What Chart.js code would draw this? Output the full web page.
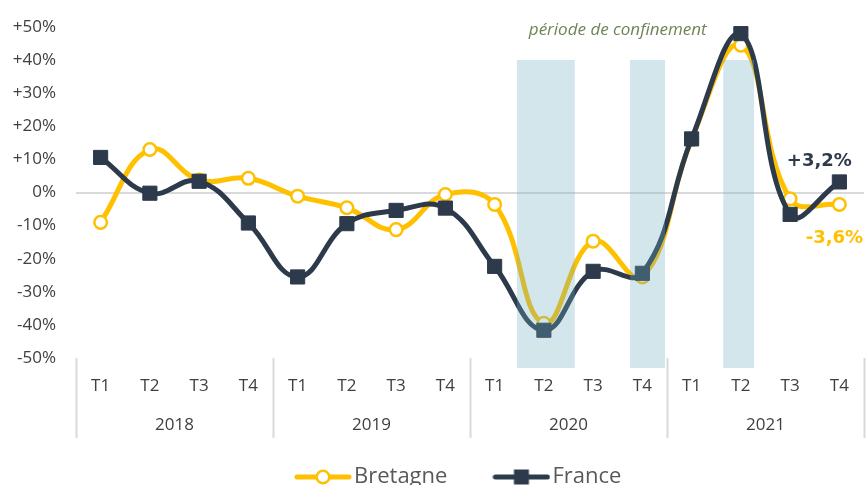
<!DOCTYPE html>
<html>
<head>
<meta charset="utf-8">
<script src="https://cdn.jsdelivr.net/npm/chart.js@4/dist/chart.umd.min.js"></script>
<style>
  html, body { margin: 0; padding: 0; background: #ffffff; }
  #wrap { width: 867px; height: 485px; position: relative; }
</style>
</head>
<body>
<div id="wrap"><canvas id="c" width="867" height="485"></canvas></div>
<script>
// ---- data ----
const quarters = ['T1','T2','T3','T4','T1','T2','T3','T4','T1','T2','T3','T4','T1','T2','T3','T4'];
const years = ['2018', '2019', '2020', '2021'];
const bretagne = [-9.0, 13.0, 3.8, 4.3, -1.1, -4.6, -11.2, -0.6, -3.6, -39.5, -14.7, -25.5, 16.0, 44.5, -1.9, -3.6];
const france   = [10.6, -0.2, 3.4, -9.2, -25.5, -9.4, -5.4, -4.7, -22.3, -41.6, -23.8, -24.4, 16.2, 48.0, -6.6, 3.2];
const yTicks = [-50, -40, -30, -20, -10, 0, 10, 20, 30, 40, 50];
// lockdown periods, in quarter-index units (0 = 2018 T1)
const lockStart = [8.45, 10.75, 12.64];
const lockEnd   = [9.63, 11.46, 13.27];
const lockTop = 40;
const lockBottom = -53;
const noteText = 'période de confinement';
const notePos = [10.5, 49];

// ---- styles ----
const YELLOW = '#FFC000';
const DARK = '#2C3A4B';
const LOCK = 'rgba(110,174,194,0.31)';
const FONT = "'Open Sans', sans-serif";

function makeIcon(kind) {
  const c = document.createElement('canvas');
  c.width = 58; c.height = 18;
  const g = c.getContext('2d');
  g.lineCap = 'round';
  g.lineWidth = 5;
  g.strokeStyle = kind === 'circle' ? YELLOW : DARK;
  g.beginPath(); g.moveTo(3, 9); g.lineTo(55, 9); g.stroke();
  if (kind === 'circle') {
    g.beginPath(); g.arc(29, 9, 6.3, 0, Math.PI * 2);
    g.fillStyle = '#fff'; g.fill();
    g.lineWidth = 2.5; g.strokeStyle = YELLOW; g.stroke();
  } else {
    g.fillStyle = DARK; g.fillRect(21.5, 1.5, 15, 15);
  }
  return c;
}
const icons = [makeIcon('circle'), makeIcon('rect')];

const lockSets = lockStart.map((s, i) => ({
  type: 'line',
  label: 'lock' + i,
  xAxisID: 'xl',
  data: [{x: s, y: lockTop}, {x: lockEnd[i], y: lockTop}],
  borderWidth: 0,
  pointRadius: 0,
  tension: 0,
  backgroundColor: LOCK,
  fill: {value: lockBottom},
  order: 0
}));

function fmt(v) {
  return (v > 0 ? '+' : '') + v.toFixed(1).replace('.', ',') + '%';
}

const extras = {
  id: 'extras',
  afterDraw(chart) {
    const ctx = chart.ctx;
    const xl = chart.scales.xl, y = chart.scales.y, x2 = chart.scales.x2;
    ctx.save();
    // year separators
    ctx.strokeStyle = '#d9d9d9';
    ctx.lineWidth = 2;
    const y0 = y.getPixelForValue(-50);
    const y1 = x2.bottom;
    for (let k = 0; k <= years.length; k++) {
      const px = Math.round(xl.getPixelForValue(k * 4 - 0.5)) + 0.5;
      ctx.beginPath(); ctx.moveTo(px, y0); ctx.lineTo(px, y1); ctx.stroke();
    }
    // note
    ctx.fillStyle = '#6f8456';
    ctx.font = "italic 17px " + FONT;
    ctx.textAlign = 'center';
    ctx.textBaseline = 'middle';
    ctx.fillText(noteText, xl.getPixelForValue(notePos[0]), y.getPixelForValue(notePos[1]));
    // last value labels
    const last = quarters.length - 1;
    const pf = chart.getDatasetMeta(1).data[last];
    const pb = chart.getDatasetMeta(0).data[last];
    ctx.font = "bold 18px 'DejaVu Sans', sans-serif";
    ctx.fillStyle = DARK;
    ctx.fillText(fmt(france[last]), pf.x - 20, pf.y - 21);
    ctx.fillStyle = YELLOW;
    ctx.fillText(fmt(bretagne[last]), pb.x - 5, pb.y + 34);
    // legend
    ctx.font = "22px " + FONT;
    ctx.textAlign = 'left';
    ctx.fillStyle = '#595959';
    const ly = x2.bottom + 39;
    let lx = chart.chartArea.left + 218;
    [0, 1].forEach(i => {
      const ic = icons[i];
      ctx.drawImage(ic, lx, ly - ic.height / 2);
      lx += ic.width + 2;
      const t = chart.data.datasets[i].label;
      ctx.fillText(t, lx, ly);
      lx += ctx.measureText(t).width + 45;
    });
    ctx.restore();
  }
};

new Chart(document.getElementById('c'), {
  type: 'line',
  data: {
    labels: quarters,
    datasets: [
      {
        label: 'Bretagne',
        data: bretagne,
        borderColor: YELLOW,
        backgroundColor: '#ffffff',
        borderWidth: 5,
        tension: 0.42,
        pointStyle: 'circle',
        pointRadius: 6.3,
        pointBorderWidth: 2.5,
        pointBorderColor: YELLOW,
        pointBackgroundColor: '#ffffff',
        clip: false,
        order: 2
      },
      {
        label: 'France',
        data: france,
        borderColor: DARK,
        backgroundColor: DARK,
        borderWidth: 5,
        tension: 0.42,
        pointStyle: 'rect',
        pointRadius: 10,
        pointBorderWidth: 1,
        pointBorderColor: DARK,
        pointBackgroundColor: DARK,
        clip: false,
        order: 1
      },
      ...lockSets
    ]
  },
  options: {
    responsive: false,
    animation: false,
    layout: { autoPadding: false, padding: { top: 27, right: 3, bottom: 47, left: 0 } },
    plugins: {
      tooltip: { enabled: false },
      legend: { display: false }
    },
    scales: {
      x: {
        type: 'category',
        offset: true,
        position: 'bottom',
        weight: 0,
        grid: { display: false, drawTicks: false },
        border: { display: false },
        ticks: { color: '#404040', font: { family: FONT, size: 17 }, padding: 8, maxRotation: 0, autoSkip: false },
        afterFit(a) { a.height = 30; a.paddingLeft = 0; a.paddingRight = 0; }
      },
      x2: {
        type: 'category',
        labels: years,
        offset: true,
        position: 'bottom',
        weight: 1,
        grid: { display: false, drawTicks: false },
        border: { display: false },
        ticks: { color: '#404040', font: { family: FONT, size: 17 }, padding: 17, maxRotation: 0, autoSkip: false },
        afterFit(a) { a.height = 40; a.paddingLeft = 0; a.paddingRight = 0; }
      },
      xl: {
        type: 'linear',
        display: false,
        min: -0.5,
        max: quarters.length - 0.5
      },
      y: {
        type: 'linear',
        min: lockBottom,
        max: 50,
        afterBuildTicks(a) { a.ticks = yTicks.map(v => ({ value: v })); },
        grid: {
          drawTicks: false,
          color: c => (c.tick && c.tick.value === 0) ? '#d9d9d9' : 'rgba(0,0,0,0)',
          lineWidth: 2
        },
        border: { display: false },
        ticks: {
          color: '#404040',
          font: { family: FONT, size: 17 },
          padding: 20,
          callback: v => (v > 0 ? '+' : '') + v + '%'
        },
        afterFit(a) { a.width = 76; a.paddingTop = 0; a.paddingBottom = 0; }
      }
    }
  },
  plugins: [extras]
});
</script>
</body>
</html>
